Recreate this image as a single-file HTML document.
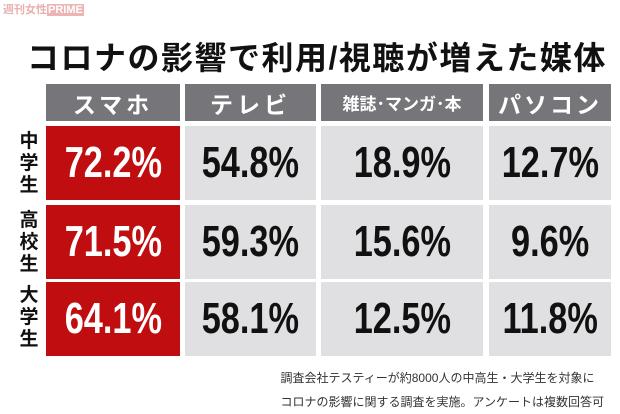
<!DOCTYPE html>
<html><head><meta charset="utf-8"><style>
body{margin:0;width:620px;height:413px;background:#fff;position:relative;overflow:hidden;font-family:"Liberation Sans","Noto Sans CJK JP",sans-serif}
.a{position:absolute}
.h{background:#76767a;color:#fff;font-weight:bold;display:flex;align-items:center;justify-content:center;top:84px;height:37px}
.c{background:#e0e0e2;color:#111;font-weight:bold;font-size:44px;display:flex;align-items:center;justify-content:center;height:74px}
.c span{display:inline-block;transform:scaleX(0.78)}
.r{background:#c00d0f;color:#fff}
.l{font-weight:bold;font-size:19px;line-height:22px;width:22px;left:18px;text-align:center;color:#111}
</style></head><body>
<div class="a" style="left:3px;top:1px;font-size:11px;color:#e8b0b0;font-weight:bold">週刊女性<span style="background:#ebb5b5;color:#fff;padding:0 1px">PRIME</span></div>
<div class="a" style="left:27px;top:33px;font-size:32px;font-weight:bold;color:#111;white-space:nowrap;letter-spacing:1.5px">コロナの影響で利用/視聴が増えた媒体</div>
<div class="a h" style="left:46px;width:134px;font-size:23px;letter-spacing:4px">スマホ</div>
<div class="a h" style="left:185px;width:131px;font-size:23px;letter-spacing:4px">テレビ</div>
<div class="a h" style="left:321px;width:162px;font-size:17px">雑誌･マンガ･本</div>
<div class="a h" style="left:489px;width:122px;font-size:23px;letter-spacing:3px">パソコン</div>
<div class="a l" style="top:131px">中<br>学<br>生</div>
<div class="a l" style="top:210px">高<br>校<br>生</div>
<div class="a l" style="top:285px">大<br>学<br>生</div>
<div class="a c r" style="left:46px;width:134px;top:126px"><span>72.2%</span></div>
<div class="a c" style="left:185px;width:131px;top:126px"><span>54.8%</span></div>
<div class="a c" style="left:321px;width:162px;top:126px"><span>18.9%</span></div>
<div class="a c" style="left:489px;width:122px;top:126px"><span>12.7%</span></div>
<div class="a c r" style="left:46px;width:134px;top:205px"><span>71.5%</span></div>
<div class="a c" style="left:185px;width:131px;top:205px"><span>59.3%</span></div>
<div class="a c" style="left:321px;width:162px;top:205px"><span>15.6%</span></div>
<div class="a c" style="left:489px;width:122px;top:205px"><span>9.6%</span></div>
<div class="a c r" style="left:46px;width:134px;top:282px"><span>64.1%</span></div>
<div class="a c" style="left:185px;width:131px;top:282px"><span>58.1%</span></div>
<div class="a c" style="left:321px;width:162px;top:282px"><span>12.5%</span></div>
<div class="a c" style="left:489px;width:122px;top:282px"><span>11.8%</span></div>
<div class="a" style="right:16px;top:366px;font-size:12px;line-height:24px;color:#333;text-align:left;white-space:nowrap">調査会社テスティーが約8000人の中高生・大学生を対象に<br>コロナの影響に関する調査を実施。アンケートは複数回答可</div>
</body></html>
